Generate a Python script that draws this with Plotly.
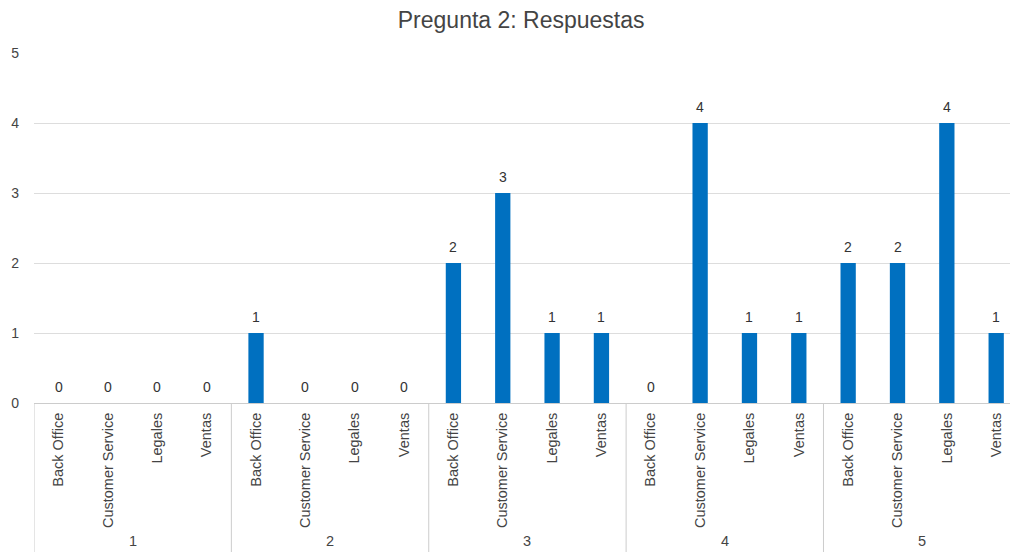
import plotly.graph_objects as go

# Survey answers per score (1-5) and department
scores = ["1", "2", "3", "4", "5"]
departments = ["Back Office", "Customer Service", "Legales", "Ventas"]
counts_1 = [0, 0, 0, 0]
counts_2 = [1, 0, 0, 0]
counts_3 = [2, 3, 1, 1]
counts_4 = [0, 4, 1, 1]
counts_5 = [2, 2, 4, 1]

all_counts = [counts_1, counts_2, counts_3, counts_4, counts_5]
values = [v for row in all_counts for v in row]
inner = [d for _ in scores for d in departments]
n_dep = len(departments)
positions = list(range(len(values)))

FONT = "Liberation Sans, Arial, Helvetica, sans-serif"
HEIGHT, TOP, BOTTOM = 552, 53, 149
plot_h = HEIGHT - TOP - BOTTOM

fig = go.Figure(
    go.Bar(
        x=positions,
        y=values,
        marker=dict(color="#0070C0", line=dict(width=0)),
        width=0.31,
        customdata=inner,
        hovertemplate="%{customdata}: %{y}<extra></extra>",
    )
)

# Value labels above each bar
for i, v in zip(positions, values):
    fig.add_annotation(
        x=i, y=v, xref="x", yref="y",
        text=str(v), showarrow=False,
        yanchor="bottom", yshift=6,
        font=dict(family=FONT, size=14, color="#333333"),
    )

# Group dividers and group (score) labels below the department labels
div_bottom = -BOTTOM / plot_h
for g, s in enumerate(scores + [None]):
    xb = g * n_dep - 0.5
    fig.add_shape(
        type="line", xref="x", yref="paper",
        x0=xb, x1=xb, y0=0, y1=div_bottom,
        line=dict(color="#cccccc", width=1),
    )
    if s is not None:
        fig.add_annotation(
            x=g * n_dep + (n_dep - 1) / 2, y=-(541 - (HEIGHT - BOTTOM)) / plot_h,
            xref="x", yref="paper", text=s, showarrow=False,
            yanchor="middle",
            font=dict(family=FONT, size=14.5, color="#444444"),
        )

fig.update_layout(
    width=1010,
    height=HEIGHT,
    margin=dict(l=34, r=0, t=TOP, b=BOTTOM),
    paper_bgcolor="white",
    plot_bgcolor="white",
    font=dict(family=FONT, size=14, color="#444444"),
    title=dict(
        text="Pregunta 2: Respuestas",
        x=0.516, xanchor="center",
        y=0.963, yanchor="middle",
        font=dict(size=23, color="#444444"),
    ),
    showlegend=False,
)

fig.update_xaxes(
    range=[-0.5, 19.28],
    tickmode="array",
    tickvals=positions,
    ticktext=inner,
    tickangle=-90,
    showline=True,
    linecolor="#cccccc",
    ticks="",
    ticklabelstandoff=3,
    tickfont=dict(size=14.5, color="#444444"),
    showgrid=False,
    zeroline=False,
    automargin=False,
)

fig.update_yaxes(
    range=[0, 5],
    dtick=1,
    showgrid=True,
    gridcolor="#dddddd",
    zeroline=False,
    ticks="",
    ticklabelstandoff=14,
    tickfont=dict(size=14, color="#444444"),
    automargin=False,
)

fig.write_html("out.html")
